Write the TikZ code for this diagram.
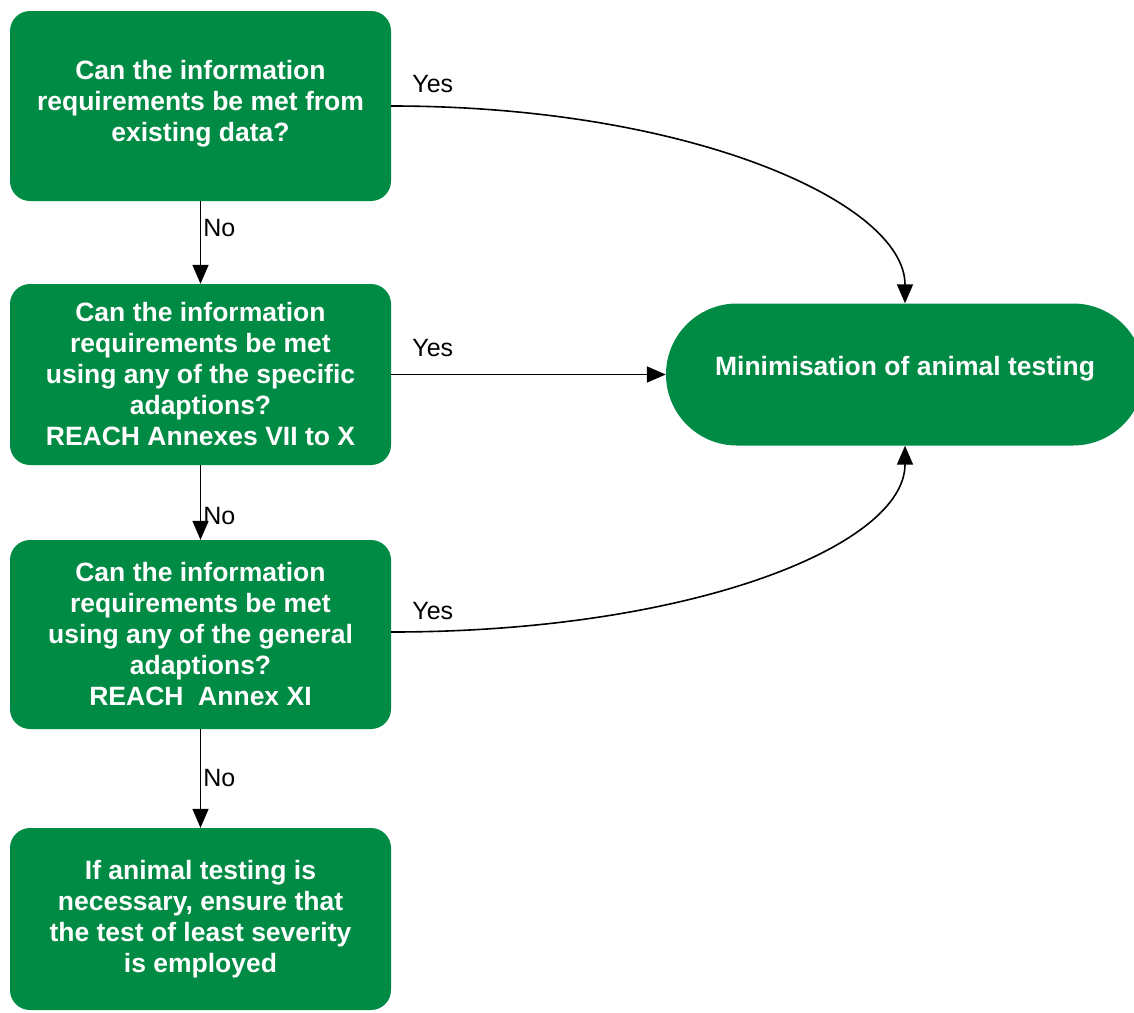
\documentclass[tikz,border=0pt]{standalone}
\usepackage{fontspec}
\setmainfont{Liberation Sans}
\usetikzlibrary{arrows.meta,positioning,shapes.misc}

\definecolor{echagreen}{HTML}{008B45}

\tikzset{
    stepbox/.style={rectangle, rounded corners=20pt, fill=echagreen, text=white,
        font=\bfseries\fontsize{26.5}{31}\selectfont, align=center,
        minimum width=381pt, minimum height=#1, inner sep=0pt},
    goalbox/.style={rounded rectangle, fill=echagreen, text=white,
        font=\bfseries\fontsize{26.5}{31}\selectfont,
        minimum width=478pt, minimum height=142pt, inner sep=0pt},
    flow/.style={draw, line width=1.6pt, -{Triangle[length=19pt,width=16pt]}},
    lbl/.style={font=\fontsize{25}{31}\selectfont, inner sep=2pt}
}

\begin{document}
\begin{tikzpicture}[x=1pt, y=1pt]
    \useasboundingbox (0,0) rectangle (1134,-1012);

    \node[stepbox=190pt] (b1) at (200.5,-106)
        {Can the information\\requirements be met from\\existing data?\\[-20pt]\mbox{}};
    \node[stepbox=181pt] (b2) at (200.5,-374.5)
        {Can the information\\requirements be met\\using any of the specific\\adaptions?\\REACH Annexes VII to X};
    \node[stepbox=189pt] (b3) at (200.5,-634.5)
        {Can the information\\requirements be met\\using any of the general\\adaptions?\\REACH\ \ Annex XI};
    \node[stepbox=182pt] (b4) at (200.5,-919)
        {If animal testing is\\necessary, ensure that\\the test of least severity\\is employed};

    \node[goalbox] (goal) at (905,-374.5)
        {\raisebox{18pt}{Minimisation of animal testing}};

    % No branches
    \path[flow]
        (b1) -- node[lbl, right, pos=0.32] (no1) {No} (b2);
    \path[flow]
        (b2) -- node[lbl, right, pos=0.68] (no2) {No} (b3);
    \path[flow]
        (b3) -- node[lbl, right, pos=0.5] (no3) {No} (b4);

    % Yes branches
    \path[flow] (b1.east) .. controls +(300,0) and +(0,100) .. (goal.north);
    \path[flow] (b2.east) -- (goal.west);
    \path[flow] (b3.east |- 0,-632) .. controls +(300,0) and +(0,-100) .. (goal.south);

    \node[lbl, anchor=west] (yes1) at ([shift={(19,22)}]b1.east) {Yes};
    \node[lbl, anchor=west] (yes2) at ([shift={(19,26)}]b2.east) {Yes};
    \node[lbl, anchor=west] (yes3) at ([shift={(19,23)}]b3.east) {Yes};
\end{tikzpicture}
\end{document}
